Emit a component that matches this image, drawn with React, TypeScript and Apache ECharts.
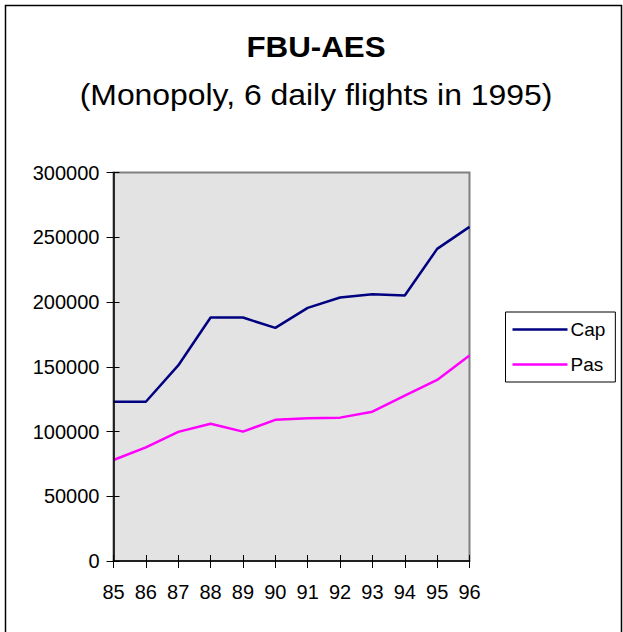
import React, { useEffect, useRef } from "react";
import * as echarts from "echarts";

const years = ["85", "86", "87", "88", "89", "90", "91", "92", "93", "94", "95", "96"];
const capValues = [123000, 123000, 151000, 188000, 188000, 180000, 195500, 203500, 206000, 205000, 241000, 258000];
const pasValues = [78000, 87800, 99700, 106000, 99900, 109000, 110200, 110700, 115300, 127700, 139800, 158600];
const titleText = "FBU-AES";
const subtitleText = "(Monopoly, 6 daily flights in 1995)";
const seriesNames = ["Cap", "Pas"];

const FONT = "'Liberation Sans', Arial, sans-serif";
const LINE_ICON = "path://M0,0 L0.01,0 L0.01,0.01 Z M0,7.75 L55,7.75 L55,10.25 L0,10.25 Z M54.99,18 L55,18 L55,17.99 Z";

export default function App() {
  const ref = useRef<HTMLDivElement>(null);
  useEffect(() => {
    if (!ref.current) return;
    const chart = echarts.init(ref.current, null, { renderer: "svg" });
    const grid = { left: 113.5, top: 172.5, width: 356, height: 388.5 };
    chart.setOption({
      animation: false,
      backgroundColor: "#ffffff",
      textStyle: { fontFamily: FONT },
      grid: {
        ...grid,
        show: true,
        backgroundColor: "#e3e3e3",
        borderColor: "#808080",
        borderWidth: 2,
        containLabel: false,
      },
      legend: {
        orient: "vertical",
        left: 505.5,
        top: 312,
        itemWidth: 55,
        itemHeight: 18,
        itemGap: 16,
        padding: [8, 10, 8, 7],
        borderColor: "#000000",
        borderWidth: 1,
        backgroundColor: "#ffffff",
        borderRadius: 0,
        textStyle: { fontFamily: FONT, fontSize: 19, color: "#000", padding: [0, 0, 0, -2] },
        data: seriesNames.map((n) => ({ name: n, icon: LINE_ICON })),
      },
      xAxis: [
        {
          type: "category",
          data: years,
          boundaryGap: false,
          position: "bottom",
          axisLine: { show: true, lineStyle: { color: "#000", width: 1.5 } },
          axisTick: { show: true, inside: false, length: 7, interval: 0, lineStyle: { color: "#000", width: 1 } },
          axisLabel: { fontFamily: FONT, fontSize: 20, color: "#000", margin: 21, interval: 0 },
          splitLine: { show: false },
          z: 5,
        },
        {
          type: "category",
          data: years,
          boundaryGap: false,
          position: "bottom",
          axisLine: { show: false },
          axisTick: { show: true, inside: true, length: 6, interval: 0, lineStyle: { color: "#000", width: 1 } },
          axisLabel: { show: false },
          splitLine: { show: false },
        },
      ],
      yAxis: [
        {
          type: "value",
          min: 0,
          max: 300000,
          interval: 50000,
          position: "left",
          axisLine: { show: true, lineStyle: { color: "#000", width: 1.5 } },
          axisTick: { show: true, inside: false, length: 7, lineStyle: { color: "#000", width: 1 } },
          axisLabel: { fontFamily: FONT, fontSize: 20, color: "#000", margin: 14, formatter: (v: number) => String(v) },
          splitLine: { show: false },
          z: 5,
        },
        {
          type: "value",
          min: 0,
          max: 300000,
          interval: 50000,
          position: "left",
          axisLine: { show: false },
          axisTick: { show: true, inside: true, length: 6, lineStyle: { color: "#000", width: 1 } },
          axisLabel: { show: false },
          splitLine: { show: false },
        },
      ],
      series: [
        {
          name: seriesNames[0],
          type: "line",
          data: capValues,
          xAxisIndex: 0,
          yAxisIndex: 0,
          symbol: "none",
          lineStyle: { color: "#000080", width: 2.5 },
          itemStyle: { color: "#000080" },
          z: 3,
        },
        {
          name: seriesNames[1],
          type: "line",
          data: pasValues,
          xAxisIndex: 0,
          yAxisIndex: 0,
          symbol: "none",
          lineStyle: { color: "#ff00ff", width: 2.5 },
          itemStyle: { color: "#ff00ff" },
          z: 3,
        },
      ],
      graphic: [
        {
          type: "rect",
          shape: { x: 5.5, y: 5.5, width: 616, height: 640 },
          style: { fill: "none", stroke: "#000", lineWidth: 1.5 },
          silent: true,
        },
        {
          type: "text",
          x: 316,
          y: 47,
          scaleX: 1.08,
          style: {
            text: titleText,
            font: `bold 29px ${FONT}`,
            fill: "#000",
            align: "center",
            verticalAlign: "middle",
            textAlign: "center",
            textVerticalAlign: "middle",
          },
        },
        {
          type: "text",
          x: 316,
          y: 95,
          scaleX: 1.1,
          style: {
            text: subtitleText,
            font: `29px ${FONT}`,
            fill: "#000",
            align: "center",
            verticalAlign: "middle",
            textAlign: "center",
            textVerticalAlign: "middle",
          },
        },
      ],
    });
    return () => chart.dispose();
  }, []);
  return <div ref={ref} style={{ width: 623, height: 632, position: "absolute", left: 0, top: 0 }} />;
}
